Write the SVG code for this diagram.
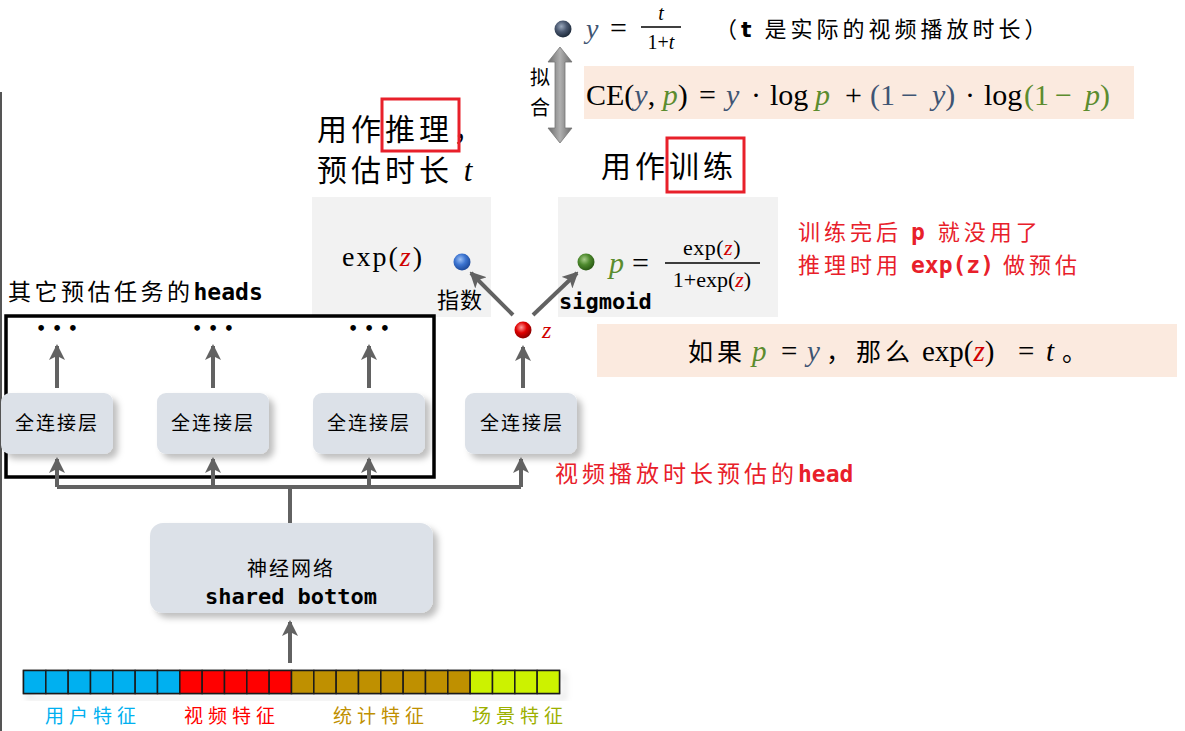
<svg xmlns="http://www.w3.org/2000/svg" width="1185" height="731" viewBox="0 0 1185 731">
<style>
.cjk{font-family:"Noto Sans CJK SC","Noto Sans",sans-serif;}
.math{font-family:"Liberation Serif","DejaVu Serif",serif;}
.it{font-style:italic;}
.mono{font-family:"DejaVu Sans Mono","Liberation Mono",monospace;font-weight:bold;}
.conn{stroke:#626262;stroke-width:4;fill:none;}
.fc{fill:#DCE1E8;}
.peach{fill:#FBEADF;}
.gbox{fill:#F2F2F2;}
.redbox{fill:none;stroke:#E8202A;stroke-width:3;}
.yc{fill:#3F5573;}
.pc{fill:#5B8C2E;}
.zc{fill:#D00000;}
.red{fill:#E8202A;}
</style>
<defs>
<marker id="ah" viewBox="0 0 16 16" refX="14" refY="8" markerWidth="16" markerHeight="16" markerUnits="userSpaceOnUse" orient="auto">
<path d="M0,0 L16,8 L0,16 L4,8 z" fill="#626262"/>
</marker>
<filter id="sh" x="-10%" y="-10%" width="130%" height="140%">
<feDropShadow dx="5" dy="5" stdDeviation="3" flood-color="#000" flood-opacity="0.25"/>
</filter>
<radialGradient id="gDark" cx="40%" cy="35%" r="65%"><stop offset="0" stop-color="#9AA8BC"/><stop offset="0.5" stop-color="#4A5870"/><stop offset="1" stop-color="#1E2A3A"/></radialGradient>
<radialGradient id="gBlue" cx="40%" cy="35%" r="65%"><stop offset="0" stop-color="#9CC0F5"/><stop offset="0.5" stop-color="#3C74D0"/><stop offset="1" stop-color="#1E4A9A"/></radialGradient>
<radialGradient id="gGreen" cx="40%" cy="35%" r="65%"><stop offset="0" stop-color="#A6CC88"/><stop offset="0.5" stop-color="#4E8A2E"/><stop offset="1" stop-color="#2A5A14"/></radialGradient>
<radialGradient id="gRed" cx="40%" cy="35%" r="65%"><stop offset="0" stop-color="#FF9A9A"/><stop offset="0.5" stop-color="#E00000"/><stop offset="1" stop-color="#8A0000"/></radialGradient>
<linearGradient id="gArrow" x1="0" y1="0" x2="1" y2="0"><stop offset="0" stop-color="#6A6A6A"/><stop offset="0.5" stop-color="#B0B0B0"/><stop offset="1" stop-color="#6A6A6A"/></linearGradient>
</defs>

<rect width="1185" height="731" fill="#FFFFFF"/>
<line x1="1" y1="92" x2="1" y2="731" stroke="#555" stroke-width="2"/>

<!-- top: y definition -->
<g id="y-def">
<circle cx="563" cy="29" r="8.5" fill="url(#gDark)"/>
<text x="586" y="38" class="math it yc" font-size="28">y</text>
<text x="610" y="38" class="math" font-size="30">=</text>
<text x="661" y="20" class="math it" font-size="20" text-anchor="middle">t</text>
<line x1="641" y1="27" x2="681" y2="27" stroke="#000" stroke-width="1.5"/>
<text x="661" y="49" class="math" font-size="20" text-anchor="middle">1+<tspan class="it">t</tspan></text>
<text x="715" y="37" class="cjk" font-size="22" letter-spacing="4">（<tspan font-weight="bold" font-family="DejaVu Sans">t</tspan> 是实际的视频播放时长）</text>
</g>

<!-- fit arrow -->
<g id="fit">
<path d="M560,47 L572,62 L565,62 L565,128 L572,128 L560,143 L548,128 L555,128 L555,62 L548,62 z" fill="url(#gArrow)" stroke="#777" stroke-width="0.8"/>
<text x="540" y="85" class="cjk" font-size="20" text-anchor="middle">拟</text>
<text x="540" y="115" class="cjk" font-size="20" text-anchor="middle">合</text>
</g>

<!-- CE box -->
<g id="ce">
<rect x="584" y="66" width="550" height="53" class="peach"/>
<text y="105" class="math" font-size="30">
<tspan x="586">CE(</tspan><tspan class="it yc">y</tspan><tspan>, </tspan><tspan class="it pc">p</tspan><tspan>)</tspan>
<tspan x="699">=</tspan>
<tspan x="726" class="it yc">y</tspan>
<tspan x="751">·</tspan>
<tspan x="770">log</tspan>
<tspan x="815" class="it pc">p</tspan>
<tspan x="845">+</tspan>
<tspan x="870" class="yc">(1</tspan>
<tspan x="901" class="yc">−</tspan>
<tspan x="932" class="it yc">y</tspan><tspan class="yc">)</tspan>
<tspan x="965">·</tspan>
<tspan x="984">log</tspan>
<tspan x="1024" class="pc">(1</tspan>
<tspan x="1055" class="pc">−</tspan>
<tspan x="1085" class="it pc">p</tspan><tspan class="pc">)</tspan>
</text>
</g>

<!-- headers -->
<g id="infer-label">
<text x="317" y="140" class="cjk" font-size="30" letter-spacing="4">用作推理，</text>
<rect x="382" y="99" width="77" height="52" class="redbox"/>
<text x="317" y="181" class="cjk" font-size="30" letter-spacing="4">预估时长 <tspan class="math it" font-size="31">t</tspan></text>
</g>
<g id="train-label">
<text x="601" y="177" class="cjk" font-size="30" letter-spacing="4">用作训练</text>
<rect x="667" y="138" width="77" height="54" class="redbox"/>
</g>

<!-- exp box -->
<g id="exp-box">
<rect x="312" y="197" width="179" height="120" class="gbox"/>
<text x="342" y="266" class="math" font-size="28" letter-spacing="2">exp(<tspan class="it zc">z</tspan>)</text>
<circle cx="462" cy="262" r="8.5" fill="url(#gBlue)"/>
</g>

<!-- sigmoid box -->
<g id="sigmoid-box">
<rect x="558" y="197" width="220" height="120" class="gbox"/>
<circle cx="586" cy="262" r="8.5" fill="url(#gGreen)"/>
<text x="609" y="273" class="math it pc" font-size="30">p</text>
<text x="632" y="273" class="math" font-size="30">=</text>
<text x="712" y="255" class="math" font-size="22" text-anchor="middle" letter-spacing="0.5">exp(<tspan class="it zc">z</tspan>)</text>
<line x1="665" y1="263" x2="760" y2="263" stroke="#000" stroke-width="1.5"/>
<text x="712" y="287" class="math" font-size="22" text-anchor="middle" letter-spacing="0">1+exp(<tspan class="it zc">z</tspan>)</text>
</g>

<!-- red notes -->
<g id="notes">
<text x="798" y="240" class="cjk red" font-size="22" letter-spacing="4">训练完后 <tspan class="mono" font-size="23">p</tspan> 就没用了</text>
<text x="798" y="273" class="cjk red" font-size="22" letter-spacing="4">推理时用 <tspan class="mono" font-size="23" letter-spacing="0">exp(z)</tspan> 做预估</text>
</g>

<!-- if box -->
<g id="if-box">
<rect x="597" y="324" width="580" height="53" class="peach"/>
<text y="361" font-size="25">
<tspan x="688" class="cjk" letter-spacing="4">如果</tspan>
<tspan x="752" class="math it pc" font-size="29">p</tspan>
<tspan x="781" class="math" font-size="29">=</tspan>
<tspan x="807" class="math it yc" font-size="29">y</tspan>
<tspan x="826" class="cjk">，</tspan>
<tspan x="856" class="cjk" letter-spacing="4">那么</tspan>
<tspan x="922" class="math" font-size="29">exp(</tspan><tspan class="math it zc" font-size="29">z</tspan><tspan class="math" font-size="29">)</tspan>
<tspan x="1018" class="math" font-size="29">=</tspan>
<tspan x="1046" class="math it" font-size="29">t</tspan>
<tspan x="1062" class="cjk">。</tspan>
</text>
</g>

<!-- z node -->
<g id="z-node">
<circle cx="523" cy="330" r="8.5" fill="url(#gRed)"/>
<text x="542" y="338" class="math it zc" font-size="24">z</text>
</g>

<!-- labels on diag arrows -->
<text x="437" y="308" class="cjk" font-size="22" letter-spacing="1">指数</text>
<text x="559" y="309" class="mono" font-size="22">sigmoid</text>

<!-- other heads -->
<g id="other-heads">
<text x="8" y="300" class="cjk" font-size="23" letter-spacing="3.5">其它预估任务的<tspan class="mono" letter-spacing="0">heads</tspan></text>
<rect x="6" y="316" width="428" height="161" fill="none" stroke="#000" stroke-width="3.5"/>
<text x="57" y="334" font-family="DejaVu Sans" font-weight="bold" font-size="16" text-anchor="middle">• • •</text>
<text x="213" y="334" font-family="DejaVu Sans" font-weight="bold" font-size="16" text-anchor="middle">• • •</text>
<text x="369" y="334" font-family="DejaVu Sans" font-weight="bold" font-size="16" text-anchor="middle">• • •</text>
</g>

<g id="fc1"><rect x="1" y="393" width="112" height="61" rx="9" class="fc" filter="url(#sh)"/><text x="57" y="430" class="cjk" font-size="19" letter-spacing="2" text-anchor="middle">全连接层</text></g>
<g id="fc2"><rect x="157" y="393" width="112" height="61" rx="9" class="fc" filter="url(#sh)"/><text x="213" y="430" class="cjk" font-size="19" letter-spacing="2" text-anchor="middle">全连接层</text></g>
<g id="fc3"><rect x="313" y="393" width="112" height="61" rx="9" class="fc" filter="url(#sh)"/><text x="369" y="430" class="cjk" font-size="19" letter-spacing="2" text-anchor="middle">全连接层</text></g>
<g id="fc4"><rect x="465" y="393" width="112" height="61" rx="9" class="fc" filter="url(#sh)"/><text x="522" y="430" class="cjk" font-size="19" letter-spacing="2" text-anchor="middle">全连接层</text></g>

<text x="555" y="482" class="cjk red" font-size="23" letter-spacing="4">视频播放时长预估的<tspan class="mono" letter-spacing="0">head</tspan></text>

<!-- shared bottom -->
<g id="shared-bottom">
<rect x="150" y="523" width="283" height="90" rx="13" class="fc" filter="url(#sh)"/>
<text x="291" y="576" class="cjk" font-size="20" letter-spacing="2" text-anchor="middle">神经网络</text>
<text x="291" y="604" class="mono" font-size="22" text-anchor="middle">shared bottom</text>
</g>

<!-- feature bar -->
<g id="features" stroke="#1A1A1A" stroke-width="1.5">
<g filter="url(#sh)"><rect x="23.5" y="670.5" width="536" height="23" fill="none"/></g>
<rect x="23.5" y="670.5" width="22.33" height="23" fill="#00B0F0"/><rect x="45.83" y="670.5" width="22.33" height="23" fill="#00B0F0"/><rect x="68.17" y="670.5" width="22.33" height="23" fill="#00B0F0"/><rect x="90.5" y="670.5" width="22.33" height="23" fill="#00B0F0"/><rect x="112.83" y="670.5" width="22.33" height="23" fill="#00B0F0"/><rect x="135.17" y="670.5" width="22.33" height="23" fill="#00B0F0"/><rect x="157.5" y="670.5" width="22.33" height="23" fill="#00B0F0"/>
<rect x="179.83" y="670.5" width="22.33" height="23" fill="#FF0000"/><rect x="202.17" y="670.5" width="22.33" height="23" fill="#FF0000"/><rect x="224.5" y="670.5" width="22.33" height="23" fill="#FF0000"/><rect x="246.83" y="670.5" width="22.33" height="23" fill="#FF0000"/><rect x="269.17" y="670.5" width="22.33" height="23" fill="#FF0000"/>
<rect x="291.5" y="670.5" width="22.33" height="23" fill="#BF9000"/><rect x="313.83" y="670.5" width="22.33" height="23" fill="#BF9000"/><rect x="336.17" y="670.5" width="22.33" height="23" fill="#BF9000"/><rect x="358.5" y="670.5" width="22.33" height="23" fill="#BF9000"/><rect x="380.83" y="670.5" width="22.33" height="23" fill="#BF9000"/><rect x="403.17" y="670.5" width="22.33" height="23" fill="#BF9000"/><rect x="425.5" y="670.5" width="22.33" height="23" fill="#BF9000"/><rect x="447.83" y="670.5" width="22.33" height="23" fill="#BF9000"/>
<rect x="470.17" y="670.5" width="22.33" height="23" fill="#CCF200"/><rect x="492.5" y="670.5" width="22.33" height="23" fill="#CCF200"/><rect x="514.83" y="670.5" width="22.33" height="23" fill="#CCF200"/><rect x="537.17" y="670.5" width="22.33" height="23" fill="#CCF200"/>
</g>
<g id="feature-labels" class="cjk" font-size="19" letter-spacing="5">
<text x="45" y="723" fill="#00B0F0">用户特征</text>
<text x="184" y="723" fill="#FF0000">视频特征</text>
<text x="333" y="723" fill="#BF9000">统计特征</text>
<text x="472" y="723" fill="#9DB000">场景特征</text>
</g>

<!-- connectors -->
<g id="connectors" class="conn">
<path d="M290,663 L290,622" marker-end="url(#ah)"/>
<path d="M290,523 L290,487"/>
<path d="M57,487 L521,487"/>
<path d="M57,487 L57,459" marker-end="url(#ah)"/>
<path d="M213,487 L213,459" marker-end="url(#ah)"/>
<path d="M369,487 L369,459" marker-end="url(#ah)"/>
<path d="M521,487 L521,459" marker-end="url(#ah)"/>
<path d="M57,388 L57,346" marker-end="url(#ah)"/>
<path d="M213,388 L213,346" marker-end="url(#ah)"/>
<path d="M369,388 L369,346" marker-end="url(#ah)"/>
<path d="M523,388 L523,347" marker-end="url(#ah)"/>
<path d="M513,315 L471,273" marker-end="url(#ah)"/>
<path d="M533,315 L577,273" marker-end="url(#ah)"/>
</g>
</svg>
